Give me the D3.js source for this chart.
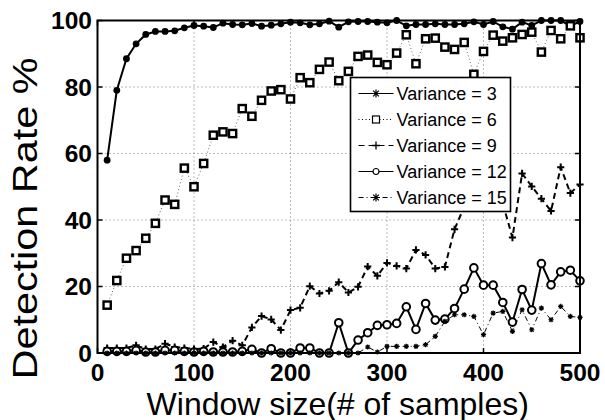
<!DOCTYPE html>
<html>
<head>
<meta charset="utf-8">
<script src="https://cdn.jsdelivr.net/npm/d3@7"></script>
<style>
  html, body { margin: 0; padding: 0; background: #fff; }
  svg { display: block; font-family: "Liberation Sans", Arial, sans-serif; }
</style>
</head>
<body>
<div id="chart"></div>
<script>
// Window sizes (# of samples)
const windowSizes = [10, 20, 30, 40, 50, 60, 70, 80, 90, 100,
  110, 120, 130, 140, 150, 160, 170, 180, 190, 200,
  210, 220, 230, 240, 250, 260, 270, 280, 290, 300,
  310, 320, 330, 340, 350, 360, 370, 380, 390, 400,
  410, 420, 430, 440, 450, 460, 470, 480, 490, 500];

// Detection rate (%) per variance
const var3 = [58, 79, 88.5, 93, 95.8, 96.7, 96.7, 96.9, 97.8, 98.5,
  98.3, 97.9, 99.2, 98.8, 98.7, 99.1, 98.3, 98.6, 99, 99.5,
  99.3, 98.7, 99, 99.8, 98, 99.6, 99.7, 99.7, 99.5, 99.3,
  100, 98.4, 98.8, 98.8, 99, 98.8, 98.8, 99, 99.6, 98.8,
  99.7, 98.1, 97.4, 99.5, 98.5, 100, 100, 100, 98.4, 99.7];
const var6 = [14.4, 21.8, 28.5, 30.8, 34.5, 39, 46, 44.7, 55.6, 50,
  57, 65.5, 66.5, 66, 73.5, 71.2, 76, 78.8, 79.2, 76.4,
  82.8, 81.3, 85.3, 87.5, 81.9, 84.7, 89.2, 89.6, 87.4, 86.7,
  90.2, 95.7, 87, 94.5, 94.7, 92, 91.3, 93.4, 83.8, 90.7,
  95.6, 93.8, 94.8, 95.8, 96.5, 90.5, 97, 94.5, 98.4, 94.8];
const var9 = [1.5, 1.5, 1.5, 2.3, 1.2, 1.2, 2.8, 1.8, 1.5, 1.2,
  1.3, 3.3, 1.8, 3.7, 2.3, 7.7, 11.1, 10.1, 6.9, 12.9,
  13.6, 20.1, 17.9, 18.7, 21.3, 18.2, 19.9, 26, 23.2, 27.1,
  26.2, 25.4, 31, 29.5, 25.4, 25.9, 37.2, 44, 46, 45,
  47, 45, 34.7, 54, 50.1, 46.4, 42.7, 55.9, 48.1, 50.7];
const var12 = [0.5, 0.5, 0.5, 0.8, 0.3, 0.3, 0.8, 0.8, 0.5, 0.3,
  0.5, 0.3, 0.3, 0.3, 0.5, 1.1, 0, 1.3, 0, 0,
  1.5, 1.5, 0, 0, 9.1, 0, 3.9, 6.1, 8.3, 8.5,
  8.9, 13.9, 7.1, 14.9, 9.9, 10.2, 13.4, 19.2, 25.6, 20.4,
  20.4, 15.2, 9.3, 19.1, 12.9, 26.9, 20.5, 24.4, 24.9, 21.7];
const var15 = [0, 0, 0, 0, 0, 0, 0, 0, 0, 0,
  0, 0, 0, 0, 0, 0, 0, 0, 0, 0,
  0, 0, 0, 0, 0, 0, 0, 1.8, 0.3, 2,
  2, 2, 2, 2.5, 5, 9.5, 11.5, 11.5, 11, 5.5,
  12, 12.5, 6.5, 13, 7, 13.5, 10, 14, 11, 10.7];

const seriesNames = ["Variance = 3", "Variance = 6", "Variance = 9", "Variance = 12", "Variance = 15"];
const xTicks = [0, 100, 200, 300, 400, 500];
const yTicks = [0, 20, 40, 60, 80, 100];

const width = 605, height = 420;
const plot = { left: 97.5, right: 580, top: 20.5, bottom: 353 };

const svg = d3.select("#chart").append("svg")
  .attr("width", width)
  .attr("height", height);

svg.append("rect").attr("width", width).attr("height", height).attr("fill", "#fff");

const x = d3.scaleLinear().domain([0, 500]).range([plot.left, plot.right]);
const y = d3.scaleLinear().domain([0, 100]).range([plot.bottom, plot.top]);

// dotted grid
const grid = svg.append("g").attr("stroke", "#777").attr("stroke-width", 1)
  .attr("stroke-dasharray", "1,3");
grid.selectAll("line.gx").data(xTicks.slice(1, -1)).enter().append("line")
  .attr("x1", d => x(d)).attr("x2", d => x(d))
  .attr("y1", plot.top).attr("y2", plot.bottom);
grid.selectAll("line.gy").data(yTicks.slice(1, -1)).enter().append("line")
  .attr("x1", plot.left).attr("x2", plot.right)
  .attr("y1", d => y(d)).attr("y2", d => y(d));

// marker shapes
function asterisk(g, r, sw) {
  const a = r * 0.72;
  g.append("path")
    .attr("d", `M0,${-r}V${r}M${-r},0H${r}M${-a},${-a}L${a},${a}M${-a},${a}L${a},${-a}`)
    .attr("stroke", "#000").attr("stroke-width", sw).attr("fill", "none");
}
function plus(g, r, sw) {
  g.append("path").attr("d", `M0,${-r}V${r}M${-r},0H${r}`)
    .attr("stroke", "#000").attr("stroke-width", sw).attr("fill", "none");
}

const series = [
  { values: var3, dash: null, lw: 2, color: "#000",
    mark: (g) => g.append("circle").attr("r", 3.4).attr("fill", "#000"),
    legendMark: (g) => asterisk(g, 4, 1.2) },
  { values: var6, dash: "1,2.5", lw: 1, color: "#666",
    mark: (g) => g.append("rect").attr("x", -3.6).attr("y", -3.6).attr("width", 7.2).attr("height", 7.2)
      .attr("fill", "#fff").attr("stroke", "#000").attr("stroke-width", 2.4),
    legendMark: (g) => g.append("rect").attr("x", -3.5).attr("y", -3.5).attr("width", 7).attr("height", 7)
      .attr("fill", "#fff").attr("stroke", "#000").attr("stroke-width", 1.2) },
  { values: var9, dash: "6,4", lw: 2, color: "#000",
    mark: (g) => plus(g, 3.6, 2),
    legendMark: (g) => plus(g, 4, 1.3) },
  { values: var12, dash: null, lw: 2, color: "#000",
    mark: (g) => g.append("circle").attr("r", 3.8).attr("fill", "#fff").attr("stroke", "#000").attr("stroke-width", 2),
    legendMark: (g) => g.append("circle").attr("r", 3).attr("fill", "#fff").attr("stroke", "#000").attr("stroke-width", 1.2) },
  { values: var15, dash: "5,3,1,3", lw: 1, color: "#000",
    mark: (g) => asterisk(g, 2.6, 1.2),
    legendMark: (g) => asterisk(g, 4, 1.2) }
];

const line = d3.line().x(d => x(d[0])).y(d => y(d[1]));

series.forEach(s => {
  const pts = windowSizes.map((w, i) => [w, s.values[i]]);
  svg.append("path")
    .attr("d", line(pts))
    .attr("fill", "none")
    .attr("stroke", s.color)
    .attr("stroke-width", s.lw)
    .attr("stroke-dasharray", s.dash);
  const marks = svg.append("g");
  pts.forEach(p => {
    const g = marks.append("g").attr("transform", `translate(${x(p[0])},${y(p[1])})`);
    s.mark(g);
  });
});

// axes box with inward ticks
const axes = svg.append("g");
axes.append("rect")
  .attr("x", plot.left).attr("y", plot.top)
  .attr("width", plot.right - plot.left).attr("height", plot.bottom - plot.top)
  .attr("fill", "none").attr("stroke", "#000").attr("stroke-width", 2);

const tickLen = 5;
axes.selectAll("line.xt").data(xTicks).enter().append("path")
  .attr("d", d => `M${x(d)},${plot.bottom}v${-tickLen}M${x(d)},${plot.top}v${tickLen}`)
  .attr("stroke", "#000").attr("stroke-width", 1.5);
axes.selectAll("line.yt").data(yTicks).enter().append("path")
  .attr("d", d => `M${plot.left},${y(d)}h${tickLen}M${plot.right},${y(d)}h${-tickLen}`)
  .attr("stroke", "#000").attr("stroke-width", 1.5);

axes.selectAll("text.xl").data(xTicks).enter().append("text")
  .attr("x", d => x(d)).attr("y", 381)
  .attr("text-anchor", "middle")
  .attr("font-size", 24.5).attr("font-weight", "bold")
  .text(d => d);
axes.selectAll("text.yl").data(yTicks).enter().append("text")
  .attr("x", 92).attr("y", d => y(d) + 8.5)
  .attr("text-anchor", "end")
  .attr("font-size", 24.5).attr("font-weight", "bold")
  .text(d => d);

svg.append("text")
  .attr("x", (plot.left + plot.right) / 2 - 1).attr("y", 414.5)
  .attr("text-anchor", "middle")
  .attr("font-size", 32)
  .text("Window size(# of samples)");

svg.append("text")
  .attr("transform", "translate(36.5,218.5) rotate(-90)")
  .attr("text-anchor", "middle")
  .attr("font-size", 35)
  .attr("textLength", 322)
  .attr("lengthAdjust", "spacingAndGlyphs")
  .text("Detection Rate %");

// legend
const legend = svg.append("g").attr("transform", "translate(350.5,77.5)");
legend.append("rect").attr("width", 160).attr("height", 134)
  .attr("fill", "#fff").attr("stroke", "#000").attr("stroke-width", 1.6);
series.forEach((s, i) => {
  const row = legend.append("g").attr("transform", `translate(0,${16 + i * 26})`);
  row.append("line").attr("x1", 8).attr("x2", 43)
    .attr("stroke", "#000").attr("stroke-width", 1.1)
    .attr("stroke-dasharray", s.dash ? (i === 2 ? "6,4" : i === 1 ? "1,2.5" : "5,3,1,3") : null);
  const m = row.append("g").attr("transform", "translate(25.5,0)");
  s.legendMark(m);
  row.append("text").attr("x", 46).attr("y", 6.5)
    .attr("font-size", 18)
    .text(seriesNames[i]);
});
</script>
</body>
</html>
